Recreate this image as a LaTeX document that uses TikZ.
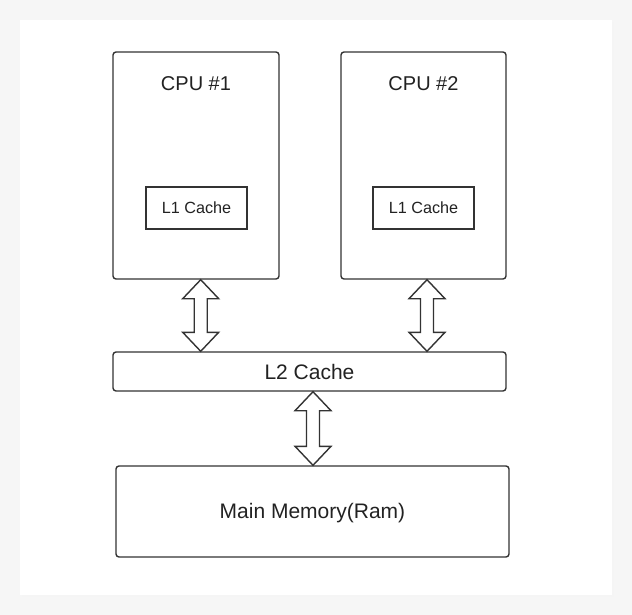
\documentclass[tikz,border=0pt]{standalone}
\usepackage{fontspec}
\setmainfont{Liberation Sans}
\usetikzlibrary{calc}
\definecolor{linec}{HTML}{333333}
\definecolor{textc}{HTML}{222222}
\definecolor{bgc}{HTML}{F6F6F6}
\tikzset{
  box/.style={draw=linec, line width=1.4pt, rounded corners=3pt, fill=white, inner sep=0pt},
  cachebox/.style={draw=linec, line width=1.4pt, fill=white, inner sep=0pt},
  lbl/.style={text=textc, inner sep=0pt, anchor=center},
  fatarrow/.style={draw=linec, line width=1.4pt, fill=white, line join=miter},
}
\newcommand{\fatdbl}[3]{%
  \draw[fatarrow] let \p1=(#2), \p2=(#3) in
    (#1,\y1) -- (#1+18pt,\y1-19pt) -- (#1+6.5pt,\y1-19pt) -- (#1+6.5pt,\y2+19pt)
    -- (#1+18pt,\y2+19pt) -- (#1,\y2) -- (#1-18pt,\y2+19pt) -- (#1-6.5pt,\y2+19pt)
    -- (#1-6.5pt,\y1-19pt) -- (#1-18pt,\y1-19pt) -- cycle;}
\begin{document}
\begin{tikzpicture}[x=1pt,y=-1pt]
  \fill[bgc] (0,0) rectangle (632,615);
  \useasboundingbox (0,0) rectangle (632,615);
  \fill[black!4] (22,22) rectangle (614,597);
  \fill[white] (20,20) rectangle (612,595);

  \node[box, minimum width=166pt, minimum height=227pt] (cpu1) at (196,165.5) {};
  \node[box, minimum width=165pt, minimum height=227pt] (cpu2) at (423.5,165.5) {};
  \node[lbl, font=\fontsize{20}{23}\selectfont] (cpu1t) at ($(cpu1.north)+(0,32.5)$) {CPU \#1};
  \node[lbl, font=\fontsize{20}{23}\selectfont] (cpu2t) at ($(cpu2.north)+(0,32.5)$) {CPU \#2};
  \node[cachebox, minimum width=101pt, minimum height=42pt, font=\fontsize{16.2}{19}\selectfont, text=textc] (l1a) at (196.5,208) {L1 Cache};
  \node[cachebox, minimum width=101pt, minimum height=42pt, font=\fontsize{16.2}{19}\selectfont, text=textc] (l1b) at (423.5,208) {L1 Cache};

  \node[box, minimum width=393pt, minimum height=39pt] (l2) at (309.5,371.5) {};
  \node[lbl, font=\fontsize{21}{24}\selectfont] (l2t) at ($(l2.center)+(0,0.5)$) {L2 Cache};
  \node[box, minimum width=393pt, minimum height=91pt] (mem) at (312.5,511.5) {};
  \node[lbl, font=\fontsize{21}{24}\selectfont] (memt) at ($(mem.center)+(0,1.5)$) {Main Memory(Ram)};

  \path (200.7,0) coordinate (xa) (427,0) coordinate (xb) (313,0) coordinate (xc);
  \path (cpu1.south -| xa) coordinate (a1t) (l2.north -| xa) coordinate (a1b);
  \path (cpu2.south -| xb) coordinate (a2t) (l2.north -| xb) coordinate (a2b);
  \path (l2.south -| xc) coordinate (a3t) (mem.north -| xc) coordinate (a3b);
  \fatdbl{200.7pt}{a1t}{a1b}
  \fatdbl{427pt}{a2t}{a2b}
  \fatdbl{313pt}{a3t}{a3b}
\end{tikzpicture}
\end{document}
